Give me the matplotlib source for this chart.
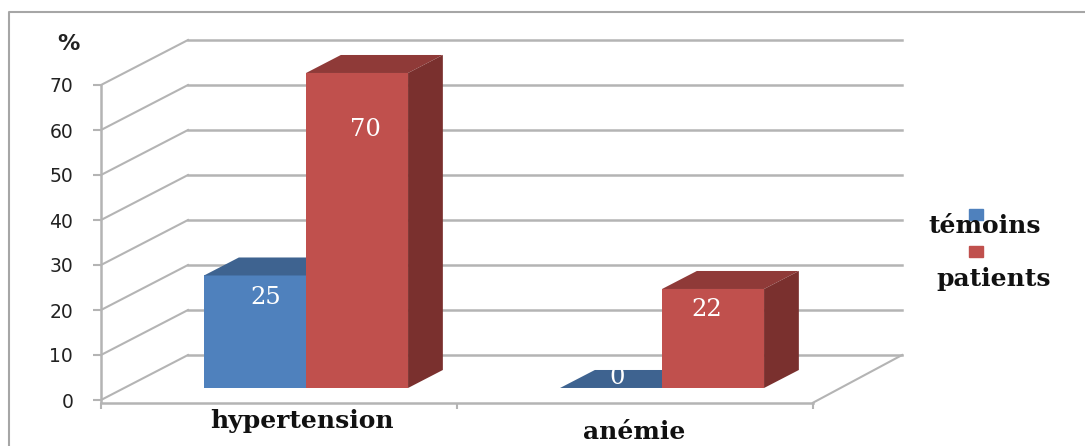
import matplotlib
matplotlib.use('Agg')
import matplotlib.pyplot as plt
from matplotlib.patches import Polygon, Rectangle

categories = ['hypertension', 'anémie']
series_names = ['témoins', 'patients']
temoins = [25, 0]
patients = [70, 22]
yticks = [0, 10, 20, 30, 40, 50, 60, 70]

BLUE = ['#4F81BD', '#3E6390', '#335077']
RED = ['#C0504D', '#8F3A38', '#7A302E']
GRID = '#B4B4B4'
INK = '#111111'

# the floor and walls are sheared by this much at full depth
DX = 87 / 356.0
DY = 10.0
BAR_W = 102 / 356.0
FRONT = 0.267
BACK = 0.667


def box(ax, left, value, colors):
    right = left + BAR_W
    base = FRONT * DY
    ddx = (BACK - FRONT) * DX
    ddy = (BACK - FRONT) * DY
    # front face comes from the bar call, top and side are added around it
    ax.bar(left, value, BAR_W, bottom=base, align='edge', color=colors[0], zorder=3)
    top = value + base
    ax.add_patch(Polygon([(left, top), (right, top), (right + ddx, top + ddy), (left + ddx, top + ddy)],
                         facecolor=colors[1], edgecolor='none', zorder=3))
    if value > 0:
        ax.add_patch(Polygon([(right, base), (right, top), (right + ddx, top + ddy), (right + ddx, base + ddy)],
                             facecolor=colors[2], edgecolor='none', zorder=3))


fig = plt.figure(figsize=(10.85, 4.46), dpi=100)
ax = fig.add_axes([0, 0, 1, 1])
ax.set_xlim(-101 / 356.0, (1085 - 101) / 356.0)
ax.set_ylim(-46 / 4.5, 400 / 4.5)
ax.patch.set_alpha(0)

# outer frame, open on the right
fig.add_artist(plt.Line2D([8.5 / 1085, 8.5 / 1085, 1],
                          [0, 1 - 11.5 / 446, 1 - 11.5 / 446],
                          color='#A6A6A6', lw=1.5))

# gridlines: slanted on the left wall, flat on the back wall
for v in yticks:
    ax.plot([0, DX], [v, v + DY], color=GRID, lw=1.5, zorder=1)
    ax.plot([DX, 2 + DX + 0.006], [v + DY, v + DY], color=GRID, lw=1.8, zorder=1)
ax.plot([2, 2 + DX + 0.006], [-0.6, DY], color=GRID, lw=1.5, zorder=1)

for spine in ['top', 'right']:
    ax.spines[spine].set_visible(False)
ax.spines['left'].set_position(('data', 0))
ax.spines['left'].set_bounds(-0.4, 70)
ax.spines['bottom'].set_position(('data', -0.6))
ax.spines['bottom'].set_bounds(0, 2)
for spine in ['left', 'bottom']:
    ax.spines[spine].set_color(GRID)
    ax.spines[spine].set_linewidth(1.8)

ax.set_yticks(yticks)
ax.set_yticklabels([str(v) for v in yticks], fontsize=13.5, color='#222222')
ax.tick_params(axis='y', length=6, width=1.5, color=GRID, pad=14)
ax.set_xticks([0, 1, 2])
ax.set_xticklabels([])
ax.tick_params(axis='x', length=4.5, width=1.5, color=GRID)

for i in range(len(categories)):
    left = i + 0.576 - BAR_W
    box(ax, left, temoins[i], BLUE)
    box(ax, left + BAR_W, patients[i], RED)

# value labels on the bars
value_pos = [(266, 298), (365, 129), (617, 378), (707, 309)]
values = [temoins[0], patients[0], temoins[1], patients[1]]
for (px, py), v in zip(value_pos, values):
    ax.text(px, 446 - py, str(v), transform=None, ha='center', va='center',
            family='DejaVu Serif', fontsize=17.5, color='white', zorder=5)

ax.text(68, 446 - 44, '%', transform=None, ha='center', va='center',
        family='DejaVu Sans', fontsize=16, fontweight='bold', color='#222222')
ax.text(302, 446 - 421, categories[0], transform=None, ha='center', va='center',
        family='DejaVu Serif', fontsize=18, fontweight='bold', color=INK)
ax.text(634, 446 - 432, categories[1], transform=None, ha='center', va='center',
        family='DejaVu Serif', fontsize=18, fontweight='bold', color=INK)

# legend: swatch sitting above each name
ax.add_patch(Rectangle((969, 446 - 220), 14, 11, transform=None, color=BLUE[0]))
ax.add_patch(Rectangle((969, 446 - 257), 14, 11, transform=None, color=RED[0]))
ax.text(985, 446 - 226, series_names[0], transform=None, ha='center', va='center',
        family='DejaVu Serif', fontsize=18, fontweight='bold', color=INK)
ax.text(994, 446 - 279, series_names[1], transform=None, ha='center', va='center',
        family='DejaVu Serif', fontsize=18, fontweight='bold', color=INK)

fig.savefig('out.png', dpi=100)
